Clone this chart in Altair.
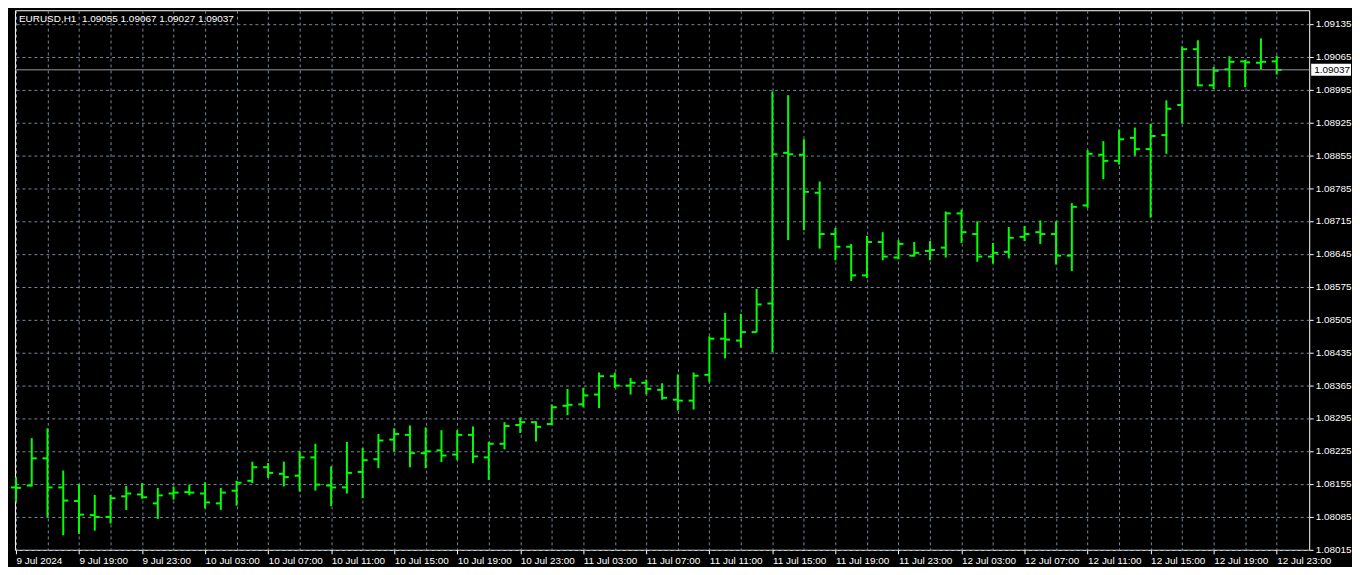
import altair as alt
import pandas as pd

symbol_title = "EURUSD,H1"
last_ohlc = ["1.09055", "1.09067", "1.09027", "1.09037"]

opens = [1.08147, 1.08151, 1.08209, 1.08147, 1.08118, 1.08088, 1.08084, 1.08128, 1.08132, 1.08113,
         1.08134, 1.08137, 1.08134, 1.08113, 1.08140, 1.08161, 1.08190, 1.08176, 1.08172, 1.08211,
         1.08151, 1.08147, 1.08180, 1.08207, 1.08249, 1.08259, 1.08220, 1.08226, 1.08217, 1.08259,
         1.08211, 1.08240, 1.08280, 1.08286, 1.08282, 1.08321, 1.08324, 1.08345, 1.08384, 1.08364,
         1.08370, 1.08355, 1.08334, 1.08332, 1.08387, 1.08464, 1.08460, 1.08478, 1.08539, 1.08860,
         1.08856, 1.08775, 1.08687, 1.08660, 1.08599, 1.08670, 1.08637, 1.08641, 1.08651, 1.08658,
         1.08731, 1.08687, 1.08639, 1.08649, 1.08681, 1.08691, 1.08687, 1.08641, 1.08748, 1.08856,
         1.08843, 1.08892, 1.08868, 1.08898, 1.08962, 1.09081, 1.09004, 1.09038, 1.09055, 1.09052,
         1.09055]
highs = [1.08168, 1.08252, 1.08273, 1.08183, 1.08154, 1.08131, 1.08131, 1.08150, 1.08156, 1.08146,
         1.08149, 1.08153, 1.08158, 1.08146, 1.08161, 1.08202, 1.08199, 1.08202, 1.08225, 1.08240,
         1.08192, 1.08244, 1.08231, 1.08261, 1.08273, 1.08279, 1.08275, 1.08269, 1.08269, 1.08277,
         1.08244, 1.08286, 1.08296, 1.08288, 1.08324, 1.08357, 1.08359, 1.08392, 1.08392, 1.08380,
         1.08377, 1.08369, 1.08388, 1.08392, 1.08469, 1.08519, 1.08517, 1.08570, 1.08991, 1.08983,
         1.08889, 1.08799, 1.08700, 1.08666, 1.08683, 1.08691, 1.08674, 1.08670, 1.08672, 1.08735,
         1.08739, 1.08714, 1.08668, 1.08702, 1.08704, 1.08716, 1.08714, 1.08753, 1.08866, 1.08885,
         1.08910, 1.08914, 1.08922, 1.08972, 1.09087, 1.09100, 1.09043, 1.09066, 1.09058, 1.09104,
         1.09067]
lows = [1.08117, 1.08149, 1.08084, 1.08045, 1.08048, 1.08055, 1.08070, 1.08099, 1.08123, 1.08080,
        1.08121, 1.08130, 1.08102, 1.08099, 1.08108, 1.08156, 1.08167, 1.08149, 1.08138, 1.08140,
        1.08107, 1.08134, 1.08124, 1.08188, 1.08224, 1.08190, 1.08188, 1.08201, 1.08205, 1.08199,
        1.08163, 1.08228, 1.08263, 1.08245, 1.08280, 1.08301, 1.08318, 1.08316, 1.08359, 1.08345,
        1.08345, 1.08334, 1.08311, 1.08313, 1.08371, 1.08422, 1.08445, 1.08478, 1.08435, 1.08674,
        1.08695, 1.08656, 1.08631, 1.08587, 1.08593, 1.08631, 1.08633, 1.08639, 1.08631, 1.08637,
        1.08668, 1.08628, 1.08624, 1.08635, 1.08672, 1.08666, 1.08622, 1.08608, 1.08743, 1.08804,
        1.08835, 1.08854, 1.08722, 1.08858, 1.08923, 1.09002, 1.08996, 1.09000, 1.09000, 1.09038,
        1.09027]
closes = [1.08146, 1.08209, 1.08147, 1.08119, 1.08089, 1.08084, 1.08124, 1.08134, 1.08126, 1.08130,
          1.08136, 1.08136, 1.08115, 1.08136, 1.08157, 1.08190, 1.08178, 1.08169, 1.08211, 1.08153,
          1.08147, 1.08178, 1.08205, 1.08247, 1.08261, 1.08220, 1.08224, 1.08215, 1.08259, 1.08213,
          1.08240, 1.08278, 1.08286, 1.08276, 1.08318, 1.08323, 1.08343, 1.08384, 1.08364, 1.08370,
          1.08357, 1.08338, 1.08332, 1.08385, 1.08464, 1.08462, 1.08478, 1.08537, 1.08857, 1.08857,
          1.08777, 1.08687, 1.08660, 1.08599, 1.08670, 1.08639, 1.08666, 1.08647, 1.08653, 1.08731,
          1.08691, 1.08639, 1.08647, 1.08679, 1.08687, 1.08687, 1.08641, 1.08745, 1.08858, 1.08843,
          1.08889, 1.08868, 1.08896, 1.08954, 1.09081, 1.09004, 1.09035, 1.09054, 1.09053, 1.09054,
          1.09037]

time_labels = ["9 Jul 2024", "9 Jul 19:00", "9 Jul 23:00", "10 Jul 03:00", "10 Jul 07:00",
               "10 Jul 11:00", "10 Jul 15:00", "10 Jul 19:00", "10 Jul 23:00", "11 Jul 03:00",
               "11 Jul 07:00", "11 Jul 11:00", "11 Jul 15:00", "11 Jul 19:00", "11 Jul 23:00",
               "12 Jul 03:00", "12 Jul 07:00", "12 Jul 11:00", "12 Jul 15:00", "12 Jul 19:00",
               "12 Jul 23:00"]
price_ticks = [1.08015, 1.08085, 1.08155, 1.08225, 1.08295, 1.08365, 1.08435, 1.08505, 1.08575,
               1.08645, 1.08715, 1.08785, 1.08855, 1.08925, 1.08995, 1.09065, 1.09135]
current_price = 1.09037

FONT = "Liberation Sans"
GREEN = "#00ff00"
GRID = "#778899"
W, H = 1300, 542

n = len(opens)
df = pd.DataFrame({"idx": list(range(n)), "open": opens, "high": highs,
                   "low": lows, "close": closes})
price_df = pd.DataFrame({"p": [current_price], "label": [f"{current_price:.5f}"]})
title_df = pd.DataFrame({"t": [symbol_title + "\u00a0 " + " ".join(last_ohlc)]})

xs = alt.Scale(domain=[-0.0625, 82.0625], nice=False, zero=False)
ys = alt.Scale(domain=[1.08014, 1.09164], nice=False, zero=False)

yaxis = alt.Axis(orient="right", values=price_ticks, format=".5f", title=None,
                 grid=True, gridColor=GRID, gridDash=[3, 3], gridWidth=1,
                 tickSize=4, tickColor="#ffffff", labelColor="#ffffff",
                 labelPadding=2, labelFlush=False, labelOverlap=False, domain=False,
                 labelFont=FONT, labelFontSize=10)

grid_x_axis = alt.Axis(orient="bottom", values=list(range(0, 82, 2)), grid=True,
                       gridColor=GRID, gridDash=[3, 3], gridWidth=1, labels=False,
                       ticks=False, domain=False, title=None)

label_expr = "[" + ",".join("'" + s + "'" for s in time_labels) + "][round(datum.value/4)]"
label_x_axis = alt.Axis(orient="bottom", values=list(range(0, n, 4)), grid=False,
                        labelExpr=label_expr, labelAlign="left", labelBaseline="top",
                        labelFlush=False, labelOverlap=False, tickSize=4,
                        tickColor="#ffffff", labelColor="#ffffff", labelPadding=2,
                        domain=False, title=None, labelFont=FONT, labelFontSize=10)

wick = alt.Chart(df).mark_rule(color=GREEN, strokeWidth=2).encode(
    x=alt.X("idx:Q", scale=xs, axis=grid_x_axis),
    y=alt.Y("low:Q", scale=ys, axis=yaxis),
    y2="high:Q",
)
open_tick = alt.Chart(df).mark_rule(color=GREEN, strokeWidth=2, xOffset=-5).encode(
    x=alt.X("idx:Q", scale=xs, axis=label_x_axis),
    x2="idx:Q",
    y=alt.Y("open:Q", scale=ys, axis=yaxis),
)
close_tick = alt.Chart(df).mark_rule(color=GREEN, strokeWidth=2, x2Offset=5).encode(
    x=alt.X("idx:Q", scale=xs, axis=None),
    x2="idx:Q",
    y=alt.Y("close:Q", scale=ys, axis=yaxis),
)
price_line = alt.Chart(price_df).mark_rule(color="#9a9a9a", strokeWidth=1).encode(
    y=alt.Y("p:Q", scale=ys, axis=yaxis),
)
price_box = alt.Chart(price_df).mark_rect(color="#ffffff", yOffset=-6, y2Offset=6).encode(
    x=alt.value(W + 2), x2=alt.value(W + 42),
    y=alt.Y("p:Q", scale=ys, axis=yaxis), y2="p:Q",
)
price_text = alt.Chart(price_df).mark_text(
    align="left", baseline="middle", color="#000000", font=FONT, fontSize=10
).encode(
    x=alt.value(W + 5),
    y=alt.Y("p:Q", scale=ys, axis=yaxis),
    text="label:N",
)
title_text = alt.Chart(title_df).mark_text(
    align="left", baseline="middle", color="#ffffff", font=FONT, fontSize=10
).encode(x=alt.value(4), y=alt.value(9), text="t:N")

chart = alt.layer(
    wick, open_tick, close_tick, price_line, price_box, price_text, title_text
).resolve_scale(x="independent").properties(
    width=W, height=H, padding={"left": 1, "top": 1, "right": 0, "bottom": 0},
    background="#000000",
).configure_view(stroke="#ffffff", strokeWidth=1, fill="#000000")

chart.save("out.html", embed_options={"renderer": "svg", "actions": False})
